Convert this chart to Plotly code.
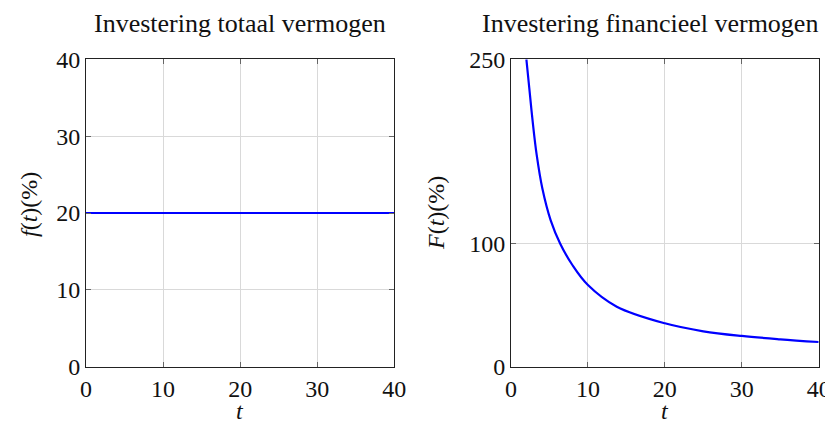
import plotly.graph_objects as go

# Left panel data
t_left = [0, 10, 20, 30, 40]
f_left = [20, 20, 20, 20, 20]

# Right panel data
t_right = [2, 2.38, 2.82, 3.34, 4.07, 5.16, 6.4, 8, 10, 13.75, 20, 25, 30, 35, 40]
F_right = [250, 226.4, 199.3, 172.2, 145.1, 119, 100, 82.5, 66.4, 48.8, 35.3, 28.8, 25, 22.3, 20.1]

x_ticks = [0, 10, 20, 30, 40]
y_ticks_left = [0, 10, 20, 30, 40]
y_ticks_right = [0, 100, 250]

OFF = 8  # page offset of the figure in the browser
W, H = 833 - OFF, 423 - OFF
FONT = "Liberation Serif"


def px(x):
    return (x - OFF) / W


def py(y):
    return 1 - (y - OFF) / H


fig = go.Figure()
fig.add_trace(go.Scatter(x=t_left, y=f_left, mode="lines",
                         line=dict(color="#0000ff", width=2.2),
                         xaxis="x", yaxis="y", showlegend=False))
fig.add_trace(go.Scatter(x=t_right, y=F_right, mode="lines",
                         line=dict(color="#0000ff", width=2.2, shape="spline", smoothing=1.0),
                         xaxis="x2", yaxis="y2", showlegend=False))

ydom = [py(366.7), py(59.3)]
xdom1 = [px(86), px(394.3)]
xdom2 = [px(511), px(818.7)]

common_axis = dict(showline=True, linecolor="#222", linewidth=1, mirror="allticks",
                   ticks="inside", ticklen=5, tickcolor="#666", tickwidth=1,
                   showgrid=True, gridcolor="#d9d9d9", gridwidth=1.3, zeroline=False,
                   automargin=False,
                   tickfont=dict(family=FONT, size=24, color="#111"))


def ann(text, x, y, size, angle=0):
    return dict(text=text, x=px(x), y=py(y), xref="paper", yref="paper",
                xanchor="center", yanchor="middle", showarrow=False, textangle=angle,
                font=dict(family=FONT, size=size, color="#111"))


fig.update_layout(
    width=W, height=H, autosize=False,
    margin=dict(l=0, r=0, t=0, b=0, pad=0, autoexpand=False),
    paper_bgcolor="white", plot_bgcolor="white",
    font=dict(family=FONT, color="#111"),
    xaxis=dict(domain=xdom1, range=[0, 40], tickvals=x_ticks, anchor="y", **common_axis),
    yaxis=dict(domain=ydom, range=[0, 40], tickvals=y_ticks_left, anchor="x", **common_axis),
    xaxis2=dict(domain=xdom2, range=[0, 40], tickvals=x_ticks, anchor="y2", **common_axis),
    yaxis2=dict(domain=ydom, range=[0, 250], tickvals=y_ticks_right, anchor="x2", **common_axis),
    annotations=[
        ann("Investering totaal vermogen", 240, 23, 26),
        ann("Investering financieel vermogen", 650, 23, 26),
        ann("<i>t</i>", 240, 411, 24),
        ann("<i>t</i>", 665, 411, 24),
        ann("<i>f</i>(<i>t</i>)(%)", 29, 205, 24, -90),
        ann("<i>F</i>(<i>t</i>)(%)", 436, 213, 24, -90),
    ],
)

fig.write_html("out.html")
